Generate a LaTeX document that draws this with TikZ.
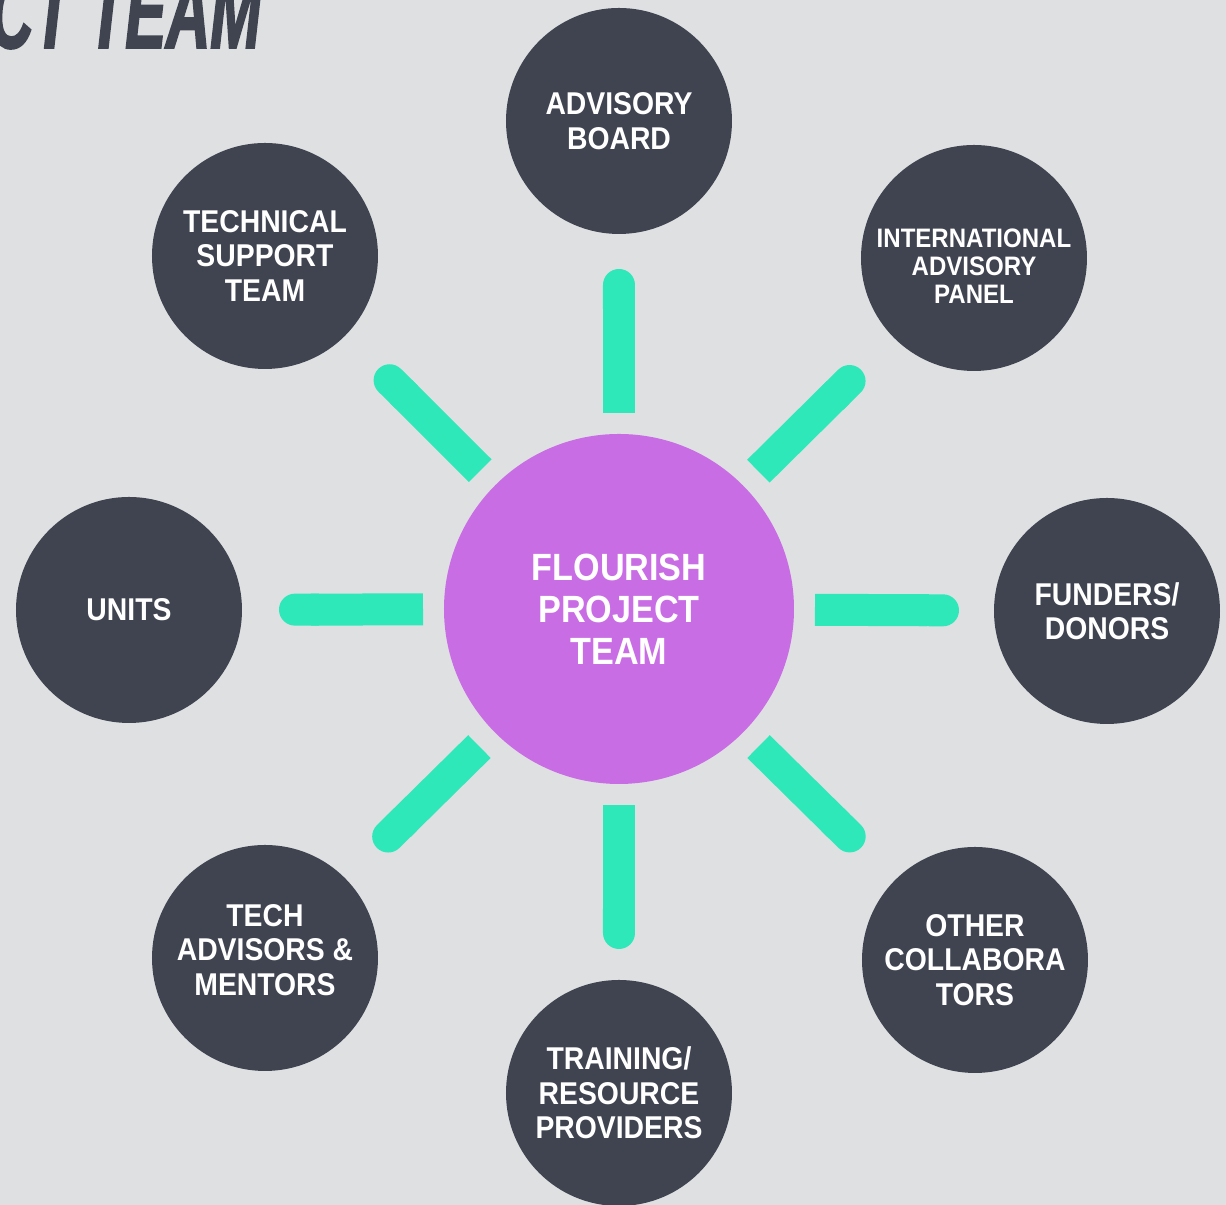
\documentclass[tikz,border=0pt]{standalone}
\usepackage{fontspec}
\setmainfont{Liberation Sans}[FakeStretch=0.9]
\newfontfamily\titlefont{Liberation Sans}[FakeStretch=0.58,FakeBold=1.6]
\usetikzlibrary{arrows.meta}
\definecolor{bggray}{HTML}{DFE0E2}
\definecolor{slate}{HTML}{3F4450}
\definecolor{orchid}{HTML}{C96DE5}
\definecolor{mint}{HTML}{2EE8B9}
\tikzset{
  member/.style={circle, fill=slate, text=white, minimum size=2.26cm, inner sep=0pt, outer sep=0pt,
    align=center, font=\bfseries\fontsize{8.96}{9.8}\selectfont},
  core/.style={circle, fill=orchid, text=white, minimum size=3.5cm, inner sep=0pt, outer sep=0pt,
    align=center, font=\bfseries\fontsize{10.8}{11.95}\selectfont},
  spoke/.style={draw=mint, line width=0.32cm, line cap=butt, -{Round Cap[]}, shorten <=0.21cm},
}
\begin{document}
\begin{tikzpicture}
    \useasboundingbox (-6.19,-5.96) rectangle (6.07,6.09);
    \fill[bggray] (-6.19,-5.96) rectangle (6.07,6.09);
    % title, cut off at the page edge
    \node[anchor=base east, inner sep=0pt, text=slate, font=\titlefont\bfseries\itshape\fontsize{30}{30}\selectfont] (title) at (-3.57,5.61) {CT TEAM};
    % team in the middle
    \node[core] (flourish) at (0,0) {FLOURISH\\PROJECT\\TEAM};
    % the groups round it
    \node[member] (advisory) at (0,4.88) {ADVISORY\\BOARD};
    \node[member, font=\bfseries\fontsize{7.6}{7.97}\selectfont] (panel) at (3.55,3.51) {\rule{0pt}{0.35cm}INTERNATIONAL\\ADVISORY\\PANEL};
    \node[member] (funders) at (4.88,-0.02) {FUNDERS/\\DONORS};
    \node[member] (others) at (3.56,-3.51) {OTHER\\COLLABORA\\TORS};
    \node[member] (training) at (0,-4.84) {TRAINING/\\RESOURCE\\PROVIDERS};
    \node[member] (mentors) at (-3.54,-3.49) {TECH\\ADVISORS \&\\MENTORS\rule[-0.16cm]{0pt}{0.16cm}};
    \node[member] (units) at (-4.90,-0.01) {UNITS};
    \node[member] (support) at (-3.54,3.53) {TECHNICAL\\SUPPORT\\TEAM};
    % spokes
    \draw[spoke, shorten >=0.35cm] (flourish) -- (advisory);
    \draw[spoke, shorten >=0.46cm] (flourish) -- (panel);
    \draw[spoke, shorten >=0.35cm] (flourish) -- (funders);
    \draw[spoke, shorten >=0.47cm] (flourish) -- (others);
    \draw[spoke, shorten >=0.31cm] (flourish) -- (training);
    \draw[spoke, shorten >=0.44cm] (flourish) -- (mentors);
    \draw[spoke, shorten >=0.37cm] (flourish) -- (units);
    \draw[spoke, shorten >=0.47cm] (flourish) -- (support);
\end{tikzpicture}
\end{document}
